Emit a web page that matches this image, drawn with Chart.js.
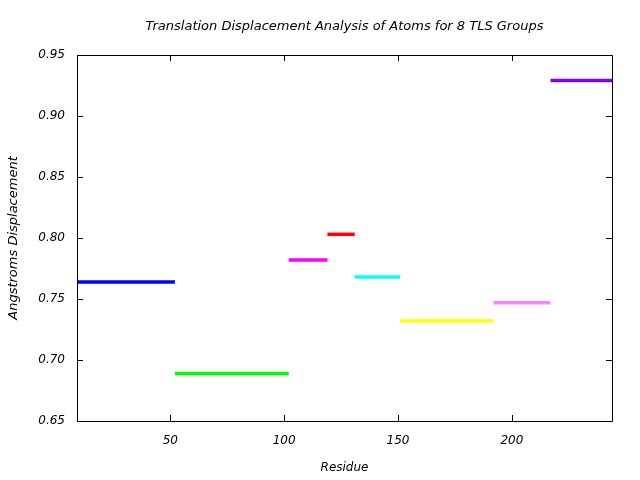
<!DOCTYPE html>
<html>
<head>
<meta charset="utf-8">
<script src="https://cdn.jsdelivr.net/npm/chart.js@4/dist/chart.umd.min.js"></script>
<style>
  html, body { margin: 0; padding: 0; background: #fff; }
  #wrap { width: 640px; height: 480px; }
</style>
</head>
<body>
<div id="wrap"><canvas id="c" width="640" height="480"></canvas></div>
<script>
const groupNames = ["TLS 1", "TLS 2", "TLS 3", "TLS 4", "TLS 5", "TLS 6", "TLS 7", "TLS 8"];
const groupStarts = [9, 52, 102, 119, 131, 151, 192, 217];
const groupEnds = [52, 102, 119, 131, 151, 192, 217, 244];
const displacements = [0.764, 0.689, 0.782, 0.803, 0.768, 0.732, 0.747, 0.929];
const groupColors = ["#0000ff", "#00ff00", "#ff00ff", "#ff0000", "#00ffff", "#ffff00", "#ff80ff", "#8000ff"];
const xTicks = [50, 100, 150, 200];
const yTicks = [0.65, 0.70, 0.75, 0.80, 0.85, 0.90, 0.95];
const xRange = [9, 244];
const yRange = [0.65, 0.95];
const titleText = "Translation Displacement Analysis of Atoms for 8 TLS Groups";
const xTitle = "Residue";
const yTitle = "Angstroms Displacement";

const FONT = "'DejaVu Sans', sans-serif";

const datasets = groupNames.map((n, i) => ({
  label: n,
  data: [{x: groupStarts[i], y: displacements[i]}, {x: groupEnds[i], y: displacements[i]}],
  borderColor: groupColors[i],
  backgroundColor: groupColors[i],
  borderWidth: 3.5,
  pointRadius: 0,
  showLine: true,
  fill: false,
  tension: 0,
  borderCapStyle: 'butt'
}));

const framePlugin = {
  id: 'frame',
  afterDraw(chart) {
    const ctx = chart.ctx;
    const a = chart.chartArea;
    const xs = chart.scales.x, ys = chart.scales.y;
    ctx.save();
    ctx.strokeStyle = '#000';
    ctx.lineWidth = 1;
    ctx.beginPath();
    ctx.rect(Math.round(a.left) + 0.5, Math.round(a.top) + 0.5, Math.round(a.right - a.left), Math.round(a.bottom - a.top));
    ctx.stroke();
    const tl = 6;
    ctx.beginPath();
    xTicks.forEach(v => {
      const px = Math.round(xs.getPixelForValue(v)) + 0.5;
      ctx.moveTo(px, a.bottom); ctx.lineTo(px, a.bottom - tl);
      ctx.moveTo(px, a.top); ctx.lineTo(px, a.top + tl);
    });
    yTicks.forEach(v => {
      const py = Math.round(ys.getPixelForValue(v)) + 0.5;
      ctx.moveTo(a.left, py); ctx.lineTo(a.left + tl, py);
      ctx.moveTo(a.right, py); ctx.lineTo(a.right - tl, py);
    });
    ctx.stroke();
    ctx.fillStyle = '#000';
    ctx.font = "italic 13px " + FONT;
    ctx.textAlign = 'center';
    ctx.textBaseline = 'middle';
    ctx.fillText(titleText, (a.left + a.right) / 2, 27);
    ctx.restore();
  }
};

new Chart(document.getElementById('c'), {
  type: 'scatter',
  data: { datasets },
  options: {
    responsive: false,
    animation: false,
    devicePixelRatio: 1,
    layout: { padding: { left: 0, right: 28, top: 55, bottom: 0 } },
    plugins: {
      legend: { display: false },
      title: { display: false },
      tooltip: { enabled: false }
    },
    scales: {
      x: {
        type: 'linear',
        min: xRange[0], max: xRange[1],
        afterBuildTicks: s => { s.ticks = xTicks.map(v => ({value: v})); },
        afterFit: s => { s.height = 59; },
        grid: { display: false, drawTicks: false },
        border: { display: false },
        ticks: { color: '#000', font: { family: FONT, size: 12, style: 'italic' }, padding: 13, maxRotation: 0 },
        title: { display: true, text: xTitle, color: '#000', font: { family: FONT, size: 12, style: 'italic' }, padding: { top: 4, bottom: 5 } }
      },
      y: {
        type: 'linear',
        min: yRange[0], max: yRange[1],
        afterBuildTicks: s => { s.ticks = yTicks.map(v => ({value: v})); },
        afterFit: s => { s.width = 77; },
        grid: { display: false, drawTicks: false },
        border: { display: false },
        ticks: { color: '#000', font: { family: FONT, size: 12, style: 'italic' }, padding: 12, callback: v => Number(v).toFixed(2) },
        title: { display: true, text: yTitle, color: '#000', font: { family: FONT, size: 13, style: 'italic' }, padding: { top: 6, bottom: 0 } }
      }
    }
  },
  plugins: [framePlugin]
});
</script>
</body>
</html>
